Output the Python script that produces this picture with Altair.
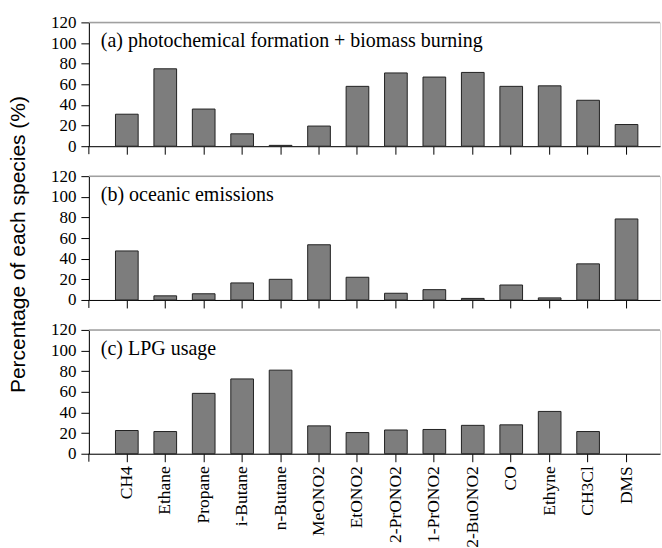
import altair as alt
import pandas as pd

species = ["CH4", "Ethane", "Propane", "i-Butane", "n-Butane", "MeONO2", "EtONO2",
           "2-PrONO2", "1-PrONO2", "2-BuONO2", "CO", "Ethyne", "CH3Cl", "DMS"]
photochem_biomass = [31, 75, 36, 12, 0.8, 19.5, 58, 71, 67, 71.5, 58, 58.5, 44.5, 21]
oceanic = [47.5, 4, 6, 16.5, 20, 53.5, 22, 6.5, 10, 1.5, 14.5, 2, 35, 78.5]
lpg = [22.5, 21.5, 58.5, 72.5, 81, 27, 20.5, 23, 23.5, 27.5, 28, 41, 21.5, 0]
panel_titles = ["(a) photochemical formation + biomass burning",
                "(b) oceanic emissions",
                "(c) LPG usage"]
y_ticks = [0, 20, 40, 60, 80, 100, 120]
y_title = "Percentage of each species (%)"

W = 572
H = 124
SERIF = "Liberation Serif, Times New Roman, serif"


def panel(values, title, last, with_ytitle):
    df = pd.DataFrame({"species": species, "value": values})
    x = alt.X(
        "species:N",
        scale=alt.Scale(domain=species, paddingInner=0.41, paddingOuter=0.634,
                        align=0.546, round=False),
        axis=alt.Axis(title=None, labels=last, labelAngle=-90, labelFont=SERIF,
                      labelFontSize=17.5, labelColor="black", labelPadding=4,
                      tickSize=8, tickColor="black", domainColor="black",
                      labelOverlap=False),
    )
    yaxis = dict(values=y_ticks, labelFont=SERIF, labelFontSize=17, labelColor="black",
                 tickSize=8, labelPadding=5, tickColor="black", domainColor="black",
                 grid=False, labelOverlap=False)
    if with_ytitle:
        yaxis.update(title=y_title, titleFont="Liberation Sans", titleFontSize=21,
                     titleFontWeight="normal", titleColor="black", titlePadding=22,
                     titleY=H / 2 + 6)
    else:
        yaxis.update(title=None)
    yscale = alt.Scale(domain=[0, 120], nice=False)
    bars = alt.Chart(df).transform_filter(alt.datum.value > 0).mark_bar(
        fill="#7d7d7d", stroke="#222222", strokeWidth=1).encode(
        x=x, y=alt.Y("value:Q", scale=yscale, axis=alt.Axis(**yaxis)))
    top = alt.Chart(pd.DataFrame({"value": [120]})).mark_rule(
        color="#a0a0a0", strokeWidth=1.5).encode(
        y=alt.Y("value:Q", scale=yscale, axis=alt.Axis(**yaxis)))
    ext = alt.Chart(pd.DataFrame({"v": [0]})).mark_rule(color="black", strokeWidth=1).encode(
        x=alt.value(0), y=alt.value(H), y2=alt.value(H + 8))
    txt = alt.Chart(pd.DataFrame({"t": [title]})).mark_text(
        align="left", baseline="middle", font=SERIF, fontSize=20, color="black").encode(
        x=alt.value(12), y=alt.value(19), text="t:N")
    return alt.layer(bars, top, ext, txt).properties(width=W, height=H)


chart = alt.vconcat(
    panel(photochem_biomass, panel_titles[0], False, False),
    panel(oceanic, panel_titles[1], False, True),
    panel(lpg, panel_titles[2], True, False),
    spacing=30, bounds="flush",
).properties(
    padding={"left": 7, "top": 12, "right": 0, "bottom": 0}
).configure_view(stroke=None).configure(background="white")

chart.save("out.html", embed_options={"renderer": "svg", "actions": False})
